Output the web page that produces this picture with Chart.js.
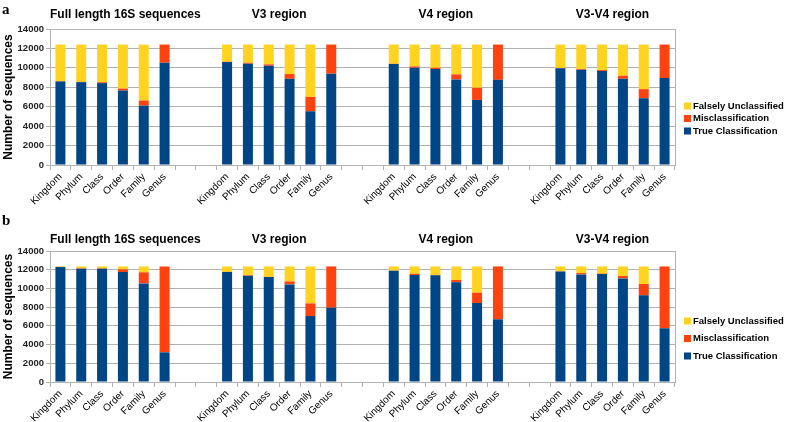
<!DOCTYPE html>
<html>
<head>
<meta charset="utf-8">
<script src="https://cdn.jsdelivr.net/npm/chart.js@4.4.1/dist/chart.umd.min.js"></script>
<style>
  html, body { margin: 0; padding: 0; background: #fff; }
  .panel { position: relative; width: 785px; height: 211px; }
  .tag { position: absolute; left: 2px; top: 1px; font: bold 15px "Liberation Serif", serif; color: #000; }
</style>
</head>
<body>
<div class="panel"><div class="tag">a</div><canvas id="chartA" width="785" height="211"></canvas></div>
<div class="panel"><div class="tag">b</div><canvas id="chartB" width="785" height="211"></canvas></div>
<script>
const categories = ['Kingdom', 'Phylum', 'Class', 'Order', 'Family', 'Genus'];
const regions = ['Full length 16S sequences', 'V3 region', 'V4 region', 'V3-V4 region'];
const yTicks = [0, 2000, 4000, 6000, 8000, 10000, 12000, 14000];

// panel a — 6 ranks per region, regions in order: full, V3, V4, V3-V4
const aTrue  = [8600, 8530, 8430, 7670, 6110, 10530,
                10600, 10430, 10220, 8880, 5530, 9400,
                10400, 10020, 9880, 8810, 6700, 8770,
                9950, 9810, 9670, 8880, 6870, 8950];
const aMis   = [30, 30, 90, 200, 520, 1870,
                30, 100, 140, 480, 1480, 3000,
                30, 130, 130, 520, 1250, 3630,
                40, 70, 100, 310, 940, 3450];
const aFalse = [3770, 3840, 3880, 4530, 5770, 0,
                1770, 1870, 2040, 3040, 5390, 0,
                1970, 2250, 2390, 3070, 4450, 0,
                2410, 2520, 2630, 3210, 4590, 0];

// panel b
const bTrue  = [12280, 12100, 12100, 11750, 10540, 3170,
                11750, 11360, 11210, 10430, 7050, 7940,
                11890, 11430, 11400, 10650, 8440, 6700,
                11820, 11500, 11540, 11070, 9260, 5740];
const bMis   = [0, 50, 50, 290, 1180, 9180,
                20, 60, 20, 320, 1350, 4410,
                20, 140, 40, 250, 1110, 5650,
                20, 140, 40, 250, 1210, 6610];
const bFalse = [70, 200, 200, 310, 630, 0,
                580, 930, 1120, 1600, 3950, 0,
                440, 780, 910, 1450, 2800, 0,
                510, 710, 770, 1030, 1880, 0];

const FONT = '"Liberation Sans", Arial, sans-serif';
const GRID = '#b3b3b3';

// two empty slots between region groups
function spread(values, blank) {
  const out = [];
  regions.forEach((r, i) => {
    if (i > 0) out.push(blank, blank);
    out.push(...values.slice(i * 6, i * 6 + 6));
  });
  return out;
}

const labels = spread(regions.flatMap(() => categories), '');

// region titles over each group
const groupTitles = {
  id: 'groupTitles',
  afterDraw(chart, args, opts) {
    const { ctx, chartArea, scales: { x } } = chart;
    ctx.save();
    ctx.font = 'bold 12px ' + FONT;
    ctx.fillStyle = '#000';
    ctx.textBaseline = 'middle';
    ctx.textAlign = 'left';
    regions.forEach((name, i) => {
      const first = i * 8, last = first + 5;
      const mid = (x.getPixelForValue(first) + x.getPixelForValue(last)) / 2;
      const w = ctx.measureText(name).width;
      ctx.fillText(name, Math.max(chartArea.left, mid - w / 2), chartArea.top - opts.gap);
    });
    ctx.restore();
  }
};

// legend to the right of the plot, top item = top of stack
const sideLegend = {
  id: 'sideLegend',
  afterDraw(chart, args, opts) {
    const { ctx, chartArea } = chart;
    const items = chart.data.datasets.slice().reverse();
    ctx.save();
    ctx.font = 'bold 9.5px ' + FONT;
    ctx.textBaseline = 'middle';
    items.forEach((ds, i) => {
      const y = chartArea.top + opts.top + i * opts.step;
      ctx.fillStyle = ds.backgroundColor;
      ctx.fillRect(chartArea.right + 9, y - 3.5, 7, 7);
      ctx.fillStyle = '#000';
      ctx.fillText(ds.label, chartArea.right + 18, y);
    });
    ctx.restore();
  }
};

const plotBorder = {
  id: 'plotBorder',
  afterDraw(chart) {
    const { ctx, chartArea: a } = chart;
    ctx.save();
    ctx.strokeStyle = GRID;
    ctx.lineWidth = 1;
    ctx.strokeRect(Math.round(a.left) + 0.5, Math.round(a.top) + 0.5,
                   Math.round(a.right - a.left), Math.round(a.bottom - a.top));
    ctx.restore();
  }
};

function makeChart(id, trueVals, misVals, falseVals, cfg) {
  const ds = (label, data, color) => ({
    label, data: spread(data, null), backgroundColor: color,
    barPercentage: 0.48, categoryPercentage: 1, borderWidth: 0
  });
  return new Chart(document.getElementById(id), {
    type: 'bar',
    data: {
      labels,
      datasets: [
        ds('True Classification', trueVals, '#004586'),
        ds('Misclassification', misVals, '#ff420e'),
        ds('Falsely Unclassified', falseVals, '#ffd320')
      ]
    },
    options: {
      responsive: false,
      animation: false,
      layout: { padding: { top: cfg.top, right: 110, left: 0, bottom: 0 } },
      plugins: {
        legend: { display: false },
        tooltip: { enabled: false },
        groupTitles: { gap: cfg.titleGap },
        sideLegend: { top: cfg.legendTop, step: cfg.legendStep }
      },
      scales: {
        x: {
          stacked: true,
          afterFit: s => { s.height = cfg.xHeight; },
          grid: { offset: true, drawOnChartArea: false, tickLength: 5, color: GRID },
          border: { color: GRID },
          ticks: {
            autoSkip: false, maxRotation: 45, minRotation: 45, padding: 1,
            color: '#000', font: { family: FONT, size: 10 }
          }
        },
        y: {
          stacked: true,
          min: 0, max: 14000,
          afterFit: s => { s.width = 50; },
          afterBuildTicks: s => { s.ticks = yTicks.map(v => ({ value: v })); },
          grid: { color: GRID, tickLength: 4 },
          border: { color: GRID },
          title: {
            display: true, text: 'Number of sequences', color: '#000',
            font: { family: FONT, size: 12, weight: 'bold' }, padding: { top: 1, bottom: 2 }
          },
          ticks: {
            color: '#222', padding: 2,
            font: { family: FONT, size: 9.5, weight: 'bold' },
            callback: v => String(v)
          }
        }
      }
    },
    plugins: [plotBorder, groupTitles, sideLegend]
  });
}

makeChart('chartA', aTrue, aMis, aFalse,
  { top: 29, xHeight: 46, titleGap: 14, legendTop: 77, legendStep: 12.5 });
makeChart('chartB', bTrue, bMis, bFalse,
  { top: 40, xHeight: 40, titleGap: 11, legendTop: 70, legendStep: 17.5 });
</script>
</body>
</html>
